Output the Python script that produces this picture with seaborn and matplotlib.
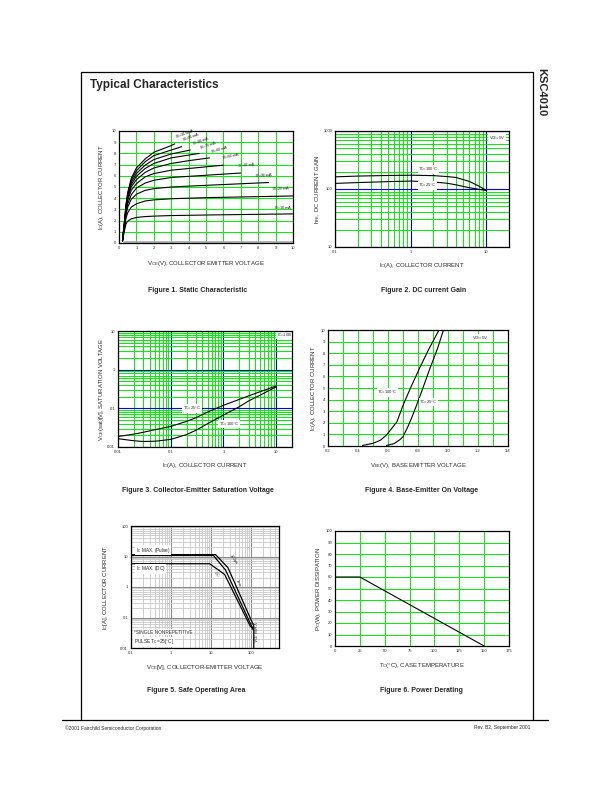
import numpy as np
import pandas as pd
import matplotlib
matplotlib.use("Agg")
import matplotlib.pyplot as plt
from matplotlib.lines import Line2D
import seaborn as sns

# ---------------- data ----------------
# Figure 1 : static characteristic, Ic vs Vce for each Ib
ib_labels = ["100", "90", "80", "70", "60", "50", "40", "30", "20", "10"]
vce_curves = {
    "100": [0.2, 0.3, 0.4, 0.5, 0.7, 1.0, 1.5, 2.0, 3.0, 3.2],
    "90": [0.2, 0.3, 0.4, 0.5, 0.7, 1.0, 1.5, 2.0, 3.0, 3.6],
    "80": [0.2, 0.3, 0.4, 0.5, 0.7, 1.0, 1.5, 2.0, 3.0, 4.1],
    "70": [0.2, 0.3, 0.4, 0.5, 0.7, 1.0, 1.5, 2.0, 3.0, 4.0, 4.6],
    "60": [0.2, 0.3, 0.4, 0.5, 0.7, 1.0, 1.5, 2.0, 3.0, 4.0, 5.2],
    "50": [0.2, 0.3, 0.4, 0.5, 0.7, 1.0, 1.5, 2.0, 3.0, 5.0, 6.0],
    "40": [0.2, 0.3, 0.4, 0.5, 0.7, 1.0, 1.5, 2.0, 3.0, 5.0, 7.0],
    "30": [0.2, 0.3, 0.4, 0.5, 0.7, 1.0, 1.5, 2.0, 3.0, 5.0, 8.6],
    "20": [0.2, 0.3, 0.4, 0.5, 0.7, 1.0, 1.5, 2.0, 3.0, 5.0, 10.0],
    "10": [0.2, 0.3, 0.4, 0.5, 0.7, 1.0, 1.5, 2.0, 3.0, 5.0, 10.0],
}
ic_curves = {
    "100": [0.2, 1.7, 3.4, 4.5, 5.75, 6.7, 7.5, 8.1, 8.7, 8.85],
    "90": [0.2, 1.7, 3.3, 4.4, 5.6, 6.45, 7.25, 7.8, 8.3, 8.6],
    "80": [0.2, 1.6, 3.2, 4.3, 5.4, 6.2, 6.95, 7.45, 7.95, 8.3],
    "70": [0.2, 1.6, 3.1, 4.2, 5.2, 5.95, 6.65, 7.1, 7.6, 7.85, 8.0],
    "60": [0.2, 1.5, 3.0, 4.0, 5.0, 5.65, 6.3, 6.7, 7.1, 7.35, 7.6],
    "50": [0.2, 1.5, 2.9, 3.8, 4.7, 5.3, 5.9, 6.2, 6.5, 6.8, 6.95],
    "40": [0.2, 1.4, 2.7, 3.5, 4.3, 4.9, 5.35, 5.6, 5.85, 6.05, 6.25],
    "30": [0.2, 1.3, 2.5, 3.2, 3.9, 4.35, 4.7, 4.85, 5.0, 5.15, 5.4],
    "20": [0.2, 1.2, 2.2, 2.7, 3.2, 3.5, 3.75, 3.85, 3.95, 4.05, 4.2],
    "10": [0.2, 1.0, 1.7, 1.95, 2.15, 2.28, 2.36, 2.4, 2.45, 2.5, 2.6],
}
ib_label_pos = {
    "100": (3.2, 9.1, 20), "90": (3.6, 8.8, 20), "80": (4.15, 8.5, 20),
    "70": (4.6, 8.15, 18), "60": (5.25, 7.75, 16), "50": (5.9, 7.2, 12),
    "40": (6.8, 6.5, 5), "30": (7.8, 5.6, 3), "20": (8.8, 4.5, 2), "10": (8.9, 2.8, 0),
}

# Figure 2 : DC current gain
hfe_ic = [0.1, 0.2, 0.5, 1, 2, 3, 4, 6, 8, 10]
hfe_100c = [162, 167, 171, 173, 170, 164, 158, 135, 112, 95]
hfe_25c = [125, 129, 134, 137, 132, 126, 118, 105, 99, 94]

# Figure 3 : Vce(sat)
sat_ic = [0.01, 0.02, 0.03, 0.05, 0.1, 0.2, 0.3, 0.5, 1, 2, 3, 5, 10]
sat_25c = [0.0187, 0.0215, 0.024, 0.028, 0.034, 0.046, 0.057, 0.08, 0.12, 0.17, 0.21, 0.27, 0.38]
sat_100c = [0.0164, 0.0145, 0.0139, 0.0141, 0.0157, 0.021, 0.027, 0.04, 0.067, 0.11, 0.155, 0.22, 0.36]

# Figure 4 : base-emitter on voltage
vbe_100c = [0.43, 0.50, 0.55, 0.59, 0.63, 0.66, 0.70, 0.75, 0.81, 0.87, 0.94]
ic_100c = [0.05, 0.23, 0.5, 0.95, 1.6, 2.1, 3.5, 5.0, 6.7, 8.3, 10]
vbe_25c = [0.59, 0.64, 0.68, 0.70, 0.73, 0.76, 0.79, 0.83, 0.88, 0.93, 0.97]
ic_25c = [0.05, 0.2, 0.55, 0.8, 1.6, 2.5, 3.5, 4.9, 6.7, 8.4, 10]

# Figure 5 : safe operating area
soa_100us_v = [0.1, 13, 26.5, 117, 117]
soa_100us_i = [11.5, 11.5, 4.3, 0.053, 0.01]
soa_1ms_v = [0.1, 11.5, 23, 105, 112]
soa_1ms_i = [10.8, 10.8, 3.6, 0.05, 0.04]
soa_dc_v = [0.1, 9.2, 21.8, 95, 110]
soa_dc_i = [5.8, 5.8, 2.6, 0.053, 0.045]

# Figure 6 : power derating
tc = [0, 25, 150]
pc = [60, 60, 0]

# ---------------- style ----------------
sns.set_style("white")
plt.rcParams["font.family"] = ["Liberation Sans", "DejaVu Sans"]
plt.rcParams["mathtext.fontset"] = "custom"
plt.rcParams["mathtext.rm"] = "Liberation Sans"
plt.rcParams["mathtext.it"] = "Liberation Sans"

GREEN = "#00f000"
BLUE = "#0000e0"
GREY = "#a8a8a8"
W, H = 612, 792

fig = plt.figure(figsize=(6.12, 7.92), dpi=100)


def ax_at(x0, y0, x1, y1):
    a = fig.add_axes([x0 / W, 1 - y1 / H, (x1 - x0) / W, (y1 - y0) / H])
    for s in a.spines.values():
        s.set_linewidth(0.9)
        s.set_color("black")
        s.set_zorder(5)
    a.tick_params(length=0, pad=2, labelsize=3)
    a.set_axisbelow(True)
    a._box = (x0, y0, x1, y1)
    return a


def labels(a, xl, yl, xl_y, yl_x):
    # place axis titles at pixel positions measured on the page
    x0, y0, x1, y1 = a._box
    a.set_xlabel(xl, fontsize=4.3, va="center")
    a.set_ylabel(yl, fontsize=4.3, va="center")
    a.xaxis.set_label_coords(0.5, -(xl_y - y1) / (y1 - y0))
    a.yaxis.set_label_coords(-(x0 - yl_x) / (x1 - x0), 0.5)


def curve(a, x, y, lw=0.8, color="black"):
    sns.lineplot(x=x, y=y, ax=a, color=color, lw=lw, sort=False, estimator=None)


def ftext(x, y, s, **kw):
    fig.text(x / W, 1 - y / H, s, **kw)


def fline(x0, y0, x1, y1, lw=0.9):
    fig.add_artist(Line2D([x0 / W, x1 / W], [1 - y0 / H, 1 - y1 / H], color="black", lw=lw))


wb = dict(fc="white", ec="none", pad=0.3)

# ---- Figure 1 ----
ax1 = ax_at(119, 131, 293, 243)
ax1.set_xlim(0, 10)
ax1.set_ylim(0, 10)
ax1.set_xticks(range(11))
ax1.set_yticks(range(11))
ax1.grid(True, color=GREEN, lw=0.7)
curve(ax1, [0.3, 10], [0.12, 0.12], lw=1.2, color=GREY)
for k in ib_labels:
    curve(ax1, vce_curves[k], ic_curves[k])
    x, y, r = ib_label_pos[k]
    ax1.text(x, y, "I$_B$=" + k + "mA", rotation=r, ha="left", va="bottom", fontsize=3)
labels(ax1, "V$_{CE}$(V), COLLECTOR EMITTER VOLTAGE", "I$_C$(A), COLLECTOR CURRENT", 264, 102)

# ---- Figure 2 ----
ax2 = ax_at(335, 131, 509, 247)
ax2.set_xscale("log")
ax2.set_yscale("log")
ax2.set_xlim(0.1, 20)
ax2.set_ylim(10, 1000)
ax2.set_xticks([0.1, 1, 10])
ax2.set_xticklabels(["0.1", "1", "10"])
ax2.set_yticks([10, 100, 1000])
ax2.set_yticklabels(["10", "100", "1000"])
ax2.grid(True, which="minor", color=GREEN, lw=0.7)
ax2.grid(True, which="major", color=BLUE, lw=0.8)
ax2.tick_params(which="minor", length=0)
curve(ax2, hfe_ic, hfe_100c)
curve(ax2, hfe_ic, hfe_25c)
ax2.text(1.25, 188, "T$_C$=100°C", fontsize=3, ha="left", va="bottom", bbox=wb)
ax2.text(1.25, 114, "T$_C$=25°C", fontsize=3, ha="left", va="center", bbox=wb)
ax2.text(10.8, 760, "V$_{CE}$=5V", fontsize=3, ha="left", va="center", bbox=wb)
labels(ax2, "I$_C$(A), COLLECTOR CURRENT", "h$_{FE}$, DC CURRENT GAIN", 266, 318)

# ---- Figure 3 ----
ax3 = ax_at(118, 331, 292, 447)
ax3.set_xscale("log")
ax3.set_yscale("log")
ax3.set_xlim(0.01, 20)
ax3.set_ylim(0.01, 10)
ax3.set_xticks([0.01, 0.1, 1, 10])
ax3.set_xticklabels(["0.01", "0.1", "1", "10"])
ax3.set_yticks([0.01, 0.1, 1, 10])
ax3.set_yticklabels(["0.01", "0.1", "1", "10"])
ax3.grid(True, which="minor", color=GREEN, lw=0.7)
ax3.grid(True, which="major", color=BLUE, lw=0.8)
ax3.tick_params(which="minor", length=0)
curve(ax3, sat_ic, sat_25c)
curve(ax3, sat_ic, sat_100c)
ax3.text(0.17, 0.1, "T$_C$=25°C", fontsize=3, ha="left", va="center", bbox=wb)
ax3.text(0.82, 0.039, "T$_C$=100°C", fontsize=3, ha="left", va="center", bbox=wb)
ax3.text(10.3, 8.0, "I$_C$=10I$_B$", fontsize=3, ha="left", va="center", bbox=wb)
labels(ax3, "I$_C$(A), COLLECTOR CURRENT", "V$_{CE}$(sat)[V], SATURATION VOLTAGE", 465, 101)

# ---- Figure 4 ----
ax4 = ax_at(328, 330, 508, 446)
ax4.set_xlim(0.2, 1.4)
ax4.set_ylim(0, 10)
ax4.set_xticks(np.arange(0.2, 1.41, 0.1))
ax4.set_xticklabels(["0.2", "", "0.4", "", "0.6", "", "0.8", "", "1.0", "", "1.2", "", "1.4"])
ax4.set_yticks(range(11))
ax4.grid(True, color=GREEN, lw=0.7)
curve(ax4, vbe_100c, ic_100c)
curve(ax4, vbe_25c, ic_25c)
ax4.text(0.53, 4.6, "T$_C$=100°C", fontsize=3, ha="left", va="center", bbox=wb)
ax4.text(0.81, 3.8, "T$_C$=25°C", fontsize=3, ha="left", va="center", bbox=wb)
ax4.text(1.16, 9.3, "V$_{CE}$=5V", fontsize=3, ha="left", va="center", bbox=wb)
labels(ax4, "V$_{BE}$(V), BASE EMITTER VOLTAGE", "I$_C$(A), COLLECTOR CURRENT", 466, 313)

# ---- Figure 5 ----
ax5 = ax_at(131, 526, 279, 648)
ax5.set_xscale("log")
ax5.set_yscale("log")
ax5.set_xlim(0.1, 500)
ax5.set_ylim(0.01, 100)
ax5.set_xticks([0.1, 1, 10, 100])
ax5.set_xticklabels(["0.1", "1", "10", "100"])
ax5.set_yticks([0.01, 0.1, 1, 10, 100])
ax5.set_yticklabels(["0.01", "0.1", "1", "10", "100"])
ax5.grid(True, which="minor", color="#c8c8c8", lw=0.6)
ax5.grid(True, which="major", color="#8c8c8c", lw=0.8)
ax5.tick_params(which="minor", length=0)
curve(ax5, soa_100us_v, soa_100us_i, lw=0.9)
curve(ax5, soa_1ms_v, soa_1ms_i, lw=0.9)
curve(ax5, soa_dc_v, soa_dc_i, lw=0.9)
box = dict(fc="white", ec="none", pad=0.5)
ax5.text(0.13, 16, "I$_C$ MAX. (Pulse)", fontsize=3.4, ha="left", va="center", bbox=box)
ax5.text(0.13, 3.9, "I$_C$ MAX. (DC)", fontsize=3.4, ha="left", va="center", bbox=box)
ax5.text(0.12, 0.033, "*SINGLE NONREPETITIVE", fontsize=3.4, ha="left", va="center", bbox=box)
ax5.text(0.12, 0.016, "PULSE T$_C$=25[°C]", fontsize=3.4, ha="left", va="center", bbox=box)
ax5.text(27, 8.0, "100µs", fontsize=3, rotation=-55, ha="left", va="center")
ax5.text(40, 1.3, "1ms", fontsize=3, rotation=-65, ha="left", va="center")
ax5.text(11, 2.6, "DC", fontsize=3, rotation=-45, ha="left", va="center")
ax5.text(135, 0.035, "V$_{CE}$ MAX", fontsize=3.6, rotation=90, ha="center", va="center")
labels(ax5, "V$_{CE}$[V], COLLECTOR-EMITTER VOLTAGE", "I$_C$[A], COLLECTOR CURRENT", 667, 106)

# ---- Figure 6 ----
ax6 = ax_at(335, 531, 509, 646)
ax6.set_xlim(0, 175)
ax6.set_ylim(0, 100)
ax6.set_xticks(range(0, 176, 25))
ax6.set_yticks(range(0, 101, 10))
ax6.grid(True, color=GREEN, lw=0.7)
curve(ax6, tc, pc)
labels(ax6, "T$_C$(°C), CASE TEMPERATURE", "P$_C$(W), POWER DISSIPATION", 665, 318)

# ---- captions, page frame, header, footer ----
cap = dict(fontsize=5, fontweight="bold", ha="center", va="center")
ftext(198, 291, "Figure 1. Static Characteristic", **cap)
ftext(424, 291, "Figure 2. DC current Gain", **cap)
ftext(198, 491, "Figure 3. Collector-Emitter Saturation Voltage", **cap)
ftext(422, 491, "Figure 4. Base-Emitter On Voltage", **cap)
ftext(196, 690, "Figure 5. Safe Operating Area", **cap)
ftext(421, 690, "Figure 6. Power Derating", **cap)

ftext(90, 85, "Typical Characteristics", fontsize=8.5, fontweight="bold", ha="left", va="center")
ftext(541, 68, "KSC4010", fontsize=8, fontweight="bold", rotation=270, ha="center", va="top")

fline(81, 72, 533, 72)
fline(81, 72, 81, 720)
fline(533, 72, 533, 720)
fline(62, 720, 548, 720)
ftext(65, 728, "©2001 Fairchild Semiconductor Corporation", fontsize=3.5, ha="left", va="center")
ftext(530, 728, "Rev. B2, September 2001", fontsize=3.5, ha="right", va="center")

fig.savefig("out.png", dpi=100)
